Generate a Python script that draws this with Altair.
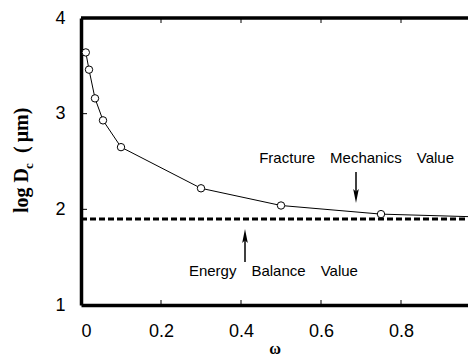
import altair as alt
import pandas as pd

# data
omega = [0.012, 0.02, 0.035, 0.055, 0.1, 0.3, 0.5, 0.75, 1.0]
log_dc = [3.64, 3.46, 3.16, 2.93, 2.65, 2.22, 2.04, 1.95, 1.92]
energy_balance = 1.90
x_ticks = [0.0, 0.2, 0.4, 0.6, 0.8]
y_ticks = [1, 2, 3, 4]
inner_y_ticks = [2, 3]
top_ticks = [0.2, 0.4, 0.6, 0.8]

ann_text = ["Fracture\u2003Mechanics\u2003Value", "Energy\u2003Balance\u2003Value"]
ann_x = [0.689, 0.481]
ann_y = [2.537, 1.356]

arrow_x = [0.6875, 0.41]
arrow_y1 = [2.39, 1.70]
arrow_y2 = [2.15, 1.45]
head_y = [2.14, 1.72]
head_shape = ["M0,1L-0.4,-1L0,-0.6L0.4,-1Z", "M0,-1L-0.4,1L0,0.6L0.4,1Z"]

W, H = 387, 287
XMAX = W / 400.0

xs = alt.Scale(domain=[0, XMAX], nice=False, zero=False)
ys = alt.Scale(domain=[1, 4], nice=False, zero=False)

df = pd.DataFrame({"omega": omega, "logdc": log_dc})
ann = pd.DataFrame({"t": ann_text, "x": ann_x, "y": ann_y})
arr = pd.DataFrame({"x": arrow_x, "y1": arrow_y1, "y2": arrow_y2, "hy": head_y, "shape": head_shape})

base_x = alt.X("omega:Q", scale=xs, axis=alt.Axis(
    values=x_ticks, format="~g", title="ω", grid=False, ticks=False,
    domainWidth=3.5, domainColor="black", labelFont="Liberation Sans",
    labelFontSize=18, labelColor="black", labelPadding=17,
    titleFont="Liberation Serif", titleFontSize=16, titleFontWeight="bold",
    titlePadding=0, titleColor="black"))
base_y = alt.Y("logdc:Q", scale=ys, axis=alt.Axis(
    values=y_ticks, format="d", title=None, grid=False, ticks=False,
    domainWidth=3.5, domainColor="black", labelFont="Liberation Sans",
    labelFontSize=18, labelColor="black", labelPadding=16))

line = alt.Chart(df).mark_line(color="black", strokeWidth=1, clip=True).encode(x=base_x, y=base_y)
pts = alt.Chart(df).mark_point(shape="circle", size=55, filled=True, fill="white",
                               stroke="black", strokeWidth=1, opacity=1, clip=True).encode(
    x=alt.X("omega:Q", scale=xs), y=alt.Y("logdc:Q", scale=ys))

dash = alt.Chart(pd.DataFrame({"y": [energy_balance]})).mark_rule(
    color="black", strokeWidth=3, strokeDash=[6, 3]).encode(
    y=alt.Y("y:Q", scale=ys), x=alt.value(0), x2=alt.value(W))

top_border = alt.Chart(pd.DataFrame({"a": [0]})).mark_rule(color="black", strokeWidth=3.5).encode(
    x=alt.value(0), x2=alt.value(W), y=alt.value(0))

ytk = alt.Chart(pd.DataFrame({"y": inner_y_ticks})).mark_rule(color="black", strokeWidth=1).encode(
    y=alt.Y("y:Q", scale=ys), x=alt.value(0), x2=alt.value(6))
btk = alt.Chart(pd.DataFrame({"x": top_ticks})).mark_rule(color="black", strokeWidth=1).encode(
    x=alt.X("x:Q", scale=xs), y=alt.value(H), y2=alt.value(H - 5))
ttk = alt.Chart(pd.DataFrame({"x": top_ticks})).mark_rule(color="black", strokeWidth=1).encode(
    x=alt.X("x:Q", scale=xs), y=alt.value(0), y2=alt.value(5))

texts = alt.Chart(ann).mark_text(font="Liberation Sans", fontSize=15, color="black").encode(
    x=alt.X("x:Q", scale=xs), y=alt.Y("y:Q", scale=ys), text="t:N")

arrow_lines = alt.Chart(arr).mark_rule(color="black", strokeWidth=1.5).encode(
    x=alt.X("x:Q", scale=xs), y=alt.Y("y1:Q", scale=ys), y2="y2:Q")
heads = alt.Chart(arr).mark_point(filled=True, color="black", size=196, opacity=1).encode(
    x=alt.X("x:Q", scale=xs), y=alt.Y("hy:Q", scale=ys),
    shape=alt.Shape("shape:N", scale=None, legend=None))

ytitle_parts = pd.DataFrame({
    "t": ["log D", "c", "(\u2009μm)"],
    "px": [-53, -48, -53],
    "py": [195, 151, 135],
    "fs": [20, 13, 20],
})
ytitle = alt.Chart(ytitle_parts).mark_text(font="Liberation Serif", fontWeight="bold",
                                           angle=270, align="left", baseline="alphabetic",
                                           color="black").encode(
    x=alt.X("px:Q", scale=None), y=alt.Y("py:Q", scale=None), text="t:N",
    size=alt.Size("fs:Q", scale=None, legend=None))

chart = alt.layer(line, dash, pts, top_border, ytk, btk, ttk, texts, arrow_lines, heads, ytitle).properties(
    width=W, height=H,
    autosize=alt.AutoSizeParams(type="none"),
    padding={"left": 73, "top": 10, "right": 0, "bottom": 50},
).configure_view(stroke=None).configure(background="white")

chart.save("out.html", embed_options={"renderer": "svg", "actions": False})
